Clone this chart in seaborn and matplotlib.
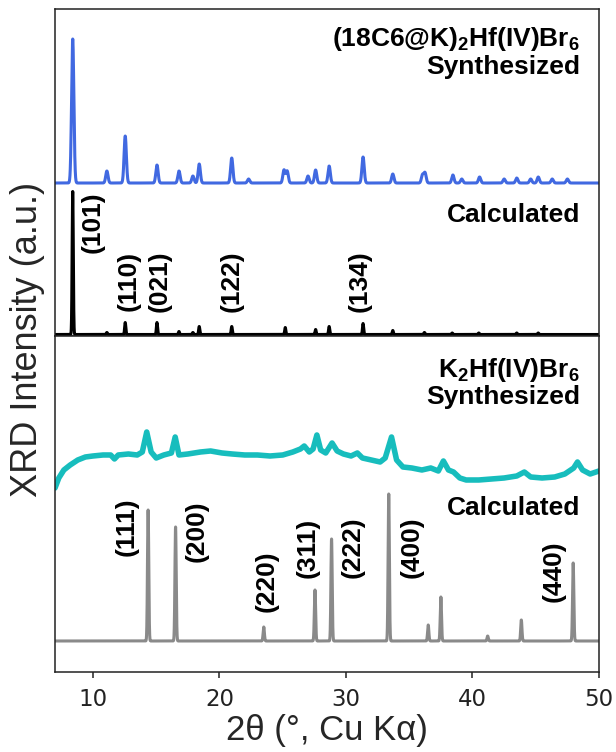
import numpy as np
import pandas as pd
import matplotlib
matplotlib.use("Agg")
import matplotlib.pyplot as plt
import seaborn as sns

# ---------------- data ----------------
# (18C6@K)2Hf(IV)Br6, synthesized powder: peak positions (2θ, °) and intensities (a.u.)
syn1_pos = [8.40, 11.10, 12.55, 15.06, 16.80, 17.90, 18.40, 20.97, 22.30,
            25.10, 25.35, 27.00, 27.60, 28.67, 31.35, 33.70, 36.05, 36.25,
            38.45, 39.15, 40.56, 42.50, 43.50, 44.60, 45.20, 46.30, 47.50]
syn1_int = [144, 12, 47, 18, 12, 7, 19, 25, 4,
            13, 12, 7, 13, 17, 26, 9, 8, 10,
            8, 4, 6, 4, 5, 4, 6, 4, 4]

# (18C6@K)2Hf(IV)Br6, calculated pattern
calc1_pos = [8.40, 11.10, 12.55, 15.06, 16.80, 17.90, 18.40, 20.97, 25.20,
             27.60, 28.67, 31.35, 33.70, 36.20, 38.40, 40.50, 43.50, 45.20]
calc1_int = [143, 2, 12, 12, 3, 2, 8, 8, 7,
             5, 8, 11, 4, 2, 1.5, 1.5, 1.5, 1.5]
calc1_hkl = ["(101)", "(110)", "(021)", "(122)", "(134)"]
calc1_hkl_x = [9.95, 12.79, 15.30, 20.94, 31.07]
calc1_hkl_y = [114, 55, 55, 55, 55]

# K2Hf(IV)Br6, synthesized powder: measured trace (2θ, intensity a.u.)
syn2_tt = [7.0, 7.3, 7.7, 8.2, 8.8, 9.4, 10.0, 10.8, 11.4, 11.7, 12.0, 12.8,
           13.5, 13.9, 14.25, 14.6, 15.0, 15.6, 16.2, 16.5, 16.8, 17.5, 18.5,
           19.3, 20.2, 21.0, 22.0, 23.0, 24.0, 25.0, 25.8, 26.4, 26.7, 27.1,
           27.4, 27.7, 28.0, 28.4, 28.9, 29.3, 29.8, 30.4, 30.9, 31.3, 32.0,
           32.7, 33.1, 33.6, 34.0, 34.5, 35.2, 36.0, 36.7, 37.3, 37.7, 38.1,
           38.5, 39.0, 39.5, 40.5, 41.5, 42.5, 43.5, 44.1, 44.6, 45.5, 46.5,
           47.3, 48.0, 48.3, 48.7, 49.3, 50.0]
syn2_int = [14, 24, 32, 37, 42, 45, 46, 47, 47, 43, 47, 48,
            47, 50, 70, 50, 44, 47, 49, 65, 47, 48, 50,
            51, 49, 48, 47, 47, 46, 47, 50, 53, 56, 50,
            53, 67, 52, 49, 59, 51, 48, 46, 49, 44, 42,
            40, 44, 65, 42, 35, 34, 32, 34, 31, 41, 32,
            30, 24, 22, 22, 23, 24, 26, 30, 25, 24, 25,
            28, 34, 40, 32, 28, 31]

# K2Hf(IV)Br6, calculated pattern
calc2_pos = [14.36, 16.53, 23.50, 27.55, 28.86, 33.38, 36.50, 37.50, 41.20, 43.86, 47.96]
calc2_int = [131, 114, 14, 51, 102, 147, 16, 44, 5, 21, 78]
calc2_hkl = ["(111)", "(200)", "(220)", "(311)", "(222)", "(400)", "(440)"]
calc2_hkl_x = [12.66, 18.20, 23.70, 27.00, 30.50, 35.20, 46.45]
calc2_hkl_y = [145, 141, 91, 124, 125, 125, 101]

# ---------------- helpers ----------------
two_theta = np.arange(7.0, 50.0001, 0.005)


def profile(pos, inten, sigma):
    """Sum of Gaussian reflections on the 2θ grid."""
    y = np.zeros_like(two_theta)
    for p, h in zip(pos, inten):
        y += h * np.exp(-0.5 * ((two_theta - p) / sigma) ** 2)
    return y


# ---------------- style ----------------
sns.set_theme(style="white")
plt.rcParams["font.family"] = ["Liberation Sans", "DejaVu Sans"]
plt.rcParams["mathtext.default"] = "regular"
plt.rcParams["axes.edgecolor"] = "#222222"
plt.rcParams["axes.linewidth"] = 1.1

BLUE = "#4169e1"
CYAN = "#17bdbd"
GRAY = "#8a8a8a"
ANN = dict(fontsize=19, fontweight="bold", color="black")

fig = plt.figure(figsize=(6.16, 7.52), dpi=100)
ax_top = fig.add_axes([0.0893, 0.5532, 0.8831, 0.4348])
ax_bot = fig.add_axes([0.0893, 0.1064, 0.8831, 0.4468], sharex=ax_top)

# ---- top panel: (18C6@K)2Hf(IV)Br6 ----
off_syn1, off_calc1 = 153, 1.5
df_s1 = pd.DataFrame({"tt": two_theta, "I": profile(syn1_pos, syn1_int, 0.09) + off_syn1})
df_c1 = pd.DataFrame({"tt": two_theta, "I": profile(calc1_pos, calc1_int, 0.045) + off_calc1})
sns.lineplot(data=df_s1, x="tt", y="I", ax=ax_top, color=BLUE, lw=2.2, estimator=None)
sns.lineplot(data=df_c1, x="tt", y="I", ax=ax_top, color="black", lw=2.2, estimator=None)
for lab, x, y in zip(calc1_hkl, calc1_hkl_x, calc1_hkl_y):
    ax_top.text(x, y, lab, rotation=90, ha="center", va="center", **ANN)
ax_top.text(48.5, 297, "(18C6@K)$_{2}$Hf(IV)Br$_{6}$", ha="right", va="center", **ANN)
ax_top.text(48.5, 269, "Synthesized", ha="right", va="center", **ANN)
ax_top.text(48.5, 121, "Calculated", ha="right", va="center", **ANN)
ax_top.set_ylim(0, 327)

# ---- bottom panel: K2Hf(IV)Br6 ----
off_syn2, off_calc2 = 170, 31
df_s2 = pd.DataFrame({"tt": syn2_tt, "I": np.asarray(syn2_int) + off_syn2})
df_c2 = pd.DataFrame({"tt": two_theta, "I": profile(calc2_pos, calc2_int, 0.05) + off_calc2})
sns.lineplot(data=df_s2, x="tt", y="I", ax=ax_bot, color=CYAN, lw=4.0, estimator=None)
sns.lineplot(data=df_c2, x="tt", y="I", ax=ax_bot, color=GRAY, lw=2.2, estimator=None)
for lab, x, y in zip(calc2_hkl, calc2_hkl_x, calc2_hkl_y):
    ax_bot.text(x, y, lab, rotation=90, ha="center", va="center", **ANN)
ax_bot.text(48.5, 302, "K$_{2}$Hf(IV)Br$_{6}$", ha="right", va="center", **ANN)
ax_bot.text(48.5, 275, "Synthesized", ha="right", va="center", **ANN)
ax_bot.text(48.5, 164, "Calculated", ha="right", va="center", **ANN)
ax_bot.set_ylim(0, 336)

# ---- axes ----
ax_bot.set_xlim(7, 50)
ax_bot.set_xticks([10, 20, 30, 40, 50])
for ax in (ax_top, ax_bot):
    ax.set_yticks([])
    ax.set_ylabel("")
    ax.set_xlabel("")
    for s in ax.spines.values():
        s.set_visible(True)
ax_top.tick_params(axis="x", bottom=False, labelbottom=False)
ax_bot.tick_params(axis="x", bottom=True, direction="out", length=4.5, width=1.1,
                   labelsize=16.5, pad=7, colors="#222222")
for t in ax_bot.get_xticklabels():
    t.set_fontfamily("DejaVu Sans")
ax_bot.set_xlabel("2θ (°, Cu Kα)", fontsize=25, labelpad=2)
fig.text(0.045, 0.548, "XRD Intensity (a.u.)", rotation=90, ha="center", va="center",
         fontsize=26)

fig.savefig("out.png", dpi=100)
